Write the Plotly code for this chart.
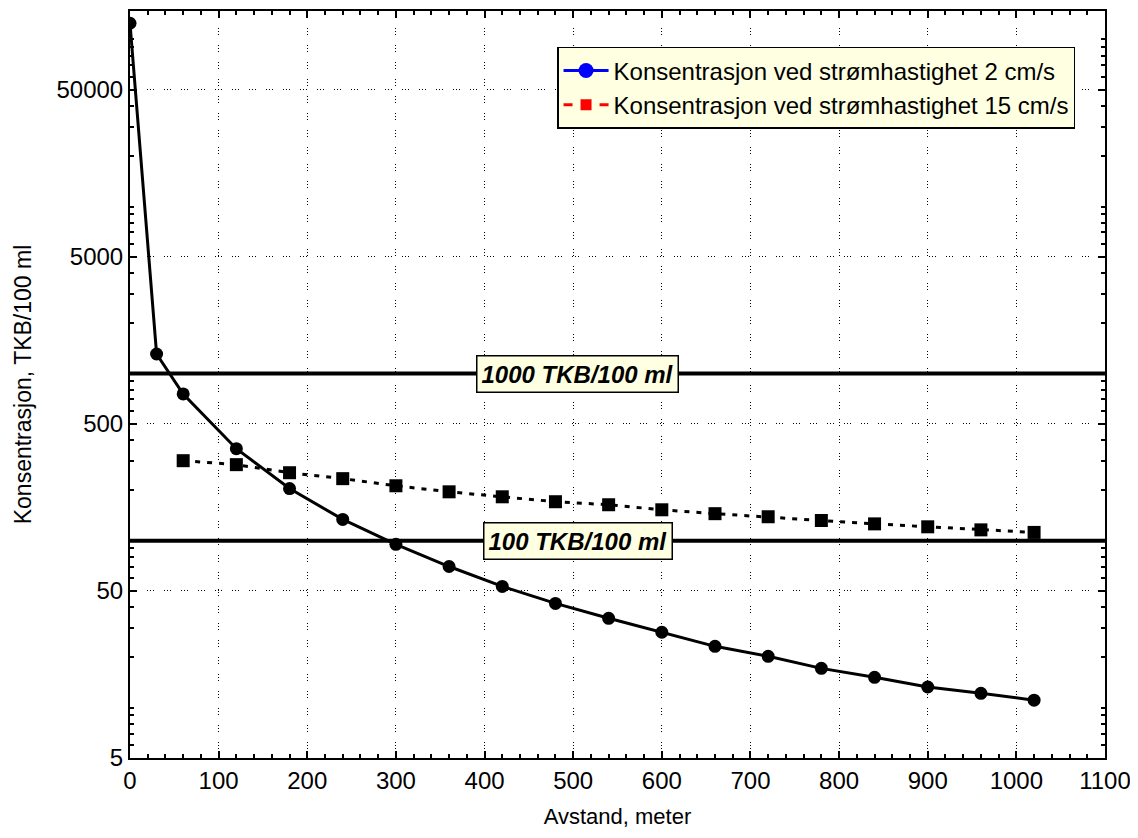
import math
import plotly.graph_objects as go

# Data
dist_2cms = [0, 30, 60, 120, 180, 240, 300, 360, 420, 480, 540, 600, 660, 720, 780, 840, 900, 960, 1020]
conc_2cms = [125000, 1310, 755, 355, 205, 134, 95, 70, 53.2, 42.1, 34.3, 28.3, 23.3, 20.3, 17.2, 15.2, 13.3, 12.2, 11.1]

dist_15cms = [60, 120, 180, 240, 300, 360, 420, 480, 540, 600, 660, 720, 780, 840, 900, 960, 1020]
conc_15cms = [301, 285, 255, 235, 213, 196, 183, 171, 164, 153, 145, 139, 132, 126, 121, 116, 112]

limit_values = [1000, 100]
limit_labels = ["1000 TKB/100 ml", "100 TKB/100 ml"]
label_x = 505

legend_names = ["Konsentrasjon ved strømhastighet 2 cm/s", "Konsentrasjon ved strømhastighet 15 cm/s"]

FONT = "Arial, 'Liberation Sans', sans-serif"
YELLOW = "#FFFFE1"
GRID_DASH = "1px,2px,1px,2px,1px,10px"

fig = go.Figure()

# Actual plotted series (black)
fig.add_trace(go.Scatter(
    x=dist_2cms, y=conc_2cms, mode="lines+markers",
    line=dict(color="black", width=3),
    marker=dict(symbol="circle", size=13, color="black"),
    showlegend=False))
fig.add_trace(go.Scatter(
    x=dist_15cms, y=conc_15cms, mode="lines+markers",
    line=dict(color="black", width=3, dash="5px,7px"),
    marker=dict(symbol="square", size=13, color="black"),
    showlegend=False))

# Legend entries (coloured as in the reference legend)
fig.add_trace(go.Scatter(
    x=[None], y=[None], mode="lines+markers", name=legend_names[0],
    line=dict(color="blue", width=3),
    marker=dict(symbol="circle", size=15, color="blue")))
fig.add_trace(go.Scatter(
    x=[None], y=[None], mode="lines+markers", name=legend_names[1],
    line=dict(color="red", width=3, dash="dash"),
    marker=dict(symbol="square", size=11, color="red")))

for val, lab in zip(limit_values, limit_labels):
    fig.add_hline(y=val, line=dict(color="black", width=4), layer="above")
    fig.add_annotation(
        x=label_x, y=math.log10(val), xref="x", yref="y", text="<b><i>" + lab + "</i></b>",
        showarrow=False, font=dict(family=FONT, size=24, color="black"),
        bgcolor=YELLOW, bordercolor="black", borderwidth=1.5, borderpad=4)

fig.update_xaxes(
    range=[0, 1100], tickmode="linear", tick0=0, dtick=100,
    ticks="inside", ticklen=7, tickwidth=1.5, tickcolor="black",
    minor=dict(ticks="inside", ticklen=4, tickcolor="black", dtick=20),
    showline=True, linecolor="black", linewidth=2, mirror="allticks",
    showgrid=True, gridcolor="black", gridwidth=1, griddash=GRID_DASH,
    zeroline=False,
    tickfont=dict(family=FONT, size=24, color="black"),
    title=dict(text="Avstand, meter", font=dict(family=FONT, size=22, color="black"), standoff=16))

fig.update_yaxes(
    type="log", range=[math.log10(5), math.log10(148000)],
    tickmode="linear", tick0=math.log10(5), dtick=1, tickformat="d",
    ticks="inside", ticklen=7, tickwidth=1.5, tickcolor="black",
    minor=dict(ticks="inside", ticklen=4, tickcolor="black", dtick="D1"),
    showline=True, linecolor="black", linewidth=2, mirror="allticks",
    showgrid=True, gridcolor="black", gridwidth=1, griddash=GRID_DASH,
    zeroline=False,
    tickfont=dict(family=FONT, size=24, color="black"),
    title=dict(text="Konsentrasjon, TKB/100 ml", font=dict(family=FONT, size=23, color="black"), standoff=18))

fig.update_layout(
    width=1138, height=838,
    margin=dict(l=122, r=41, t=1, b=88),
    plot_bgcolor="white", paper_bgcolor="white",
    font=dict(family=FONT, color="black"),
    legend=dict(x=0.438, y=0.952, xanchor="left", yanchor="top",
                bgcolor=YELLOW, bordercolor="black", borderwidth=1.5,
                font=dict(family=FONT, size=24, color="black"),
                itemwidth=45, tracegroupgap=0),
)

fig.write_html("out.html")
